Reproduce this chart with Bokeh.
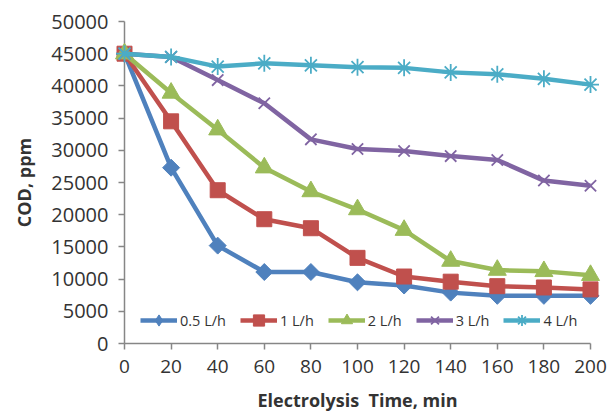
import numpy as np
from bokeh.plotting import figure
from bokeh.models import Range1d, Legend, LegendItem, SingleIntervalTicker
from bokeh.embed import file_html
from bokeh.resources import INLINE

time_min = [0, 20, 40, 60, 80, 100, 120, 140, 160, 180, 200]
cod_05 = [45000, 27300, 15200, 11100, 11100, 9500, 9000, 7900, 7400, 7400, 7400]
cod_1 = [45000, 34500, 23800, 19300, 17900, 13300, 10400, 9600, 8900, 8700, 8400]
cod_2 = [45000, 38900, 33200, 27300, 23600, 20800, 17600, 12800, 11400, 11200, 10600]
cod_3 = [45000, 44500, 40900, 37300, 31700, 30200, 29900, 29100, 28500, 25300, 24500]
cod_4 = [45000, 44500, 43000, 43500, 43200, 42900, 42800, 42100, 41800, 41100, 40200]
labels = ["0.5 L/h", "1 L/h", "2 L/h", "3 L/h", "4 L/h"]

FONT = "Open Sans"
AX = "#868686"
TXT = "#333333"

p = figure(width=608, height=414, output_backend="svg", toolbar_location=None,
           x_range=Range1d(0, 200), y_range=Range1d(0, 50000),
           min_border_left=124, min_border_right=18, min_border_top=21, min_border_bottom=69)
p.outline_line_color = None
p.grid.visible = False
p.background_fill_color = "white"
p.border_fill_color = "white"

series = [
    (cod_05, "#4F81BD", "square", 12, np.pi / 4),
    (cod_1, "#C0504D", "square", 15, 0),
    (cod_2, "#9BBB59", "triangle", 18, 0),
    (cod_3, "#8064A2", "x", 16, 0),
    (cod_4, "#4BACC6", "asterisk", 17, 0),
]

items = []
for (vals, col, mk, sz, ang), lab in zip(series, labels):
    l = p.line(time_min, vals, line_color=col, line_width=4.5, level="overlay")
    s = p.scatter(time_min, vals, marker=mk, size=sz, angle=ang, line_color=col,
                  line_width=1.8 if mk in ("x", "asterisk") else 1, fill_color=col, level="overlay")
    if ang:
        # diamond drawn underneath the rotated squares, used for the legend sample
        s = p.scatter(time_min, vals, marker="diamond", size=12, line_color=col, fill_color=col)
    items.append(LegendItem(label=lab, renderers=[l, s]))

legend = Legend(items=items, orientation="horizontal", location=(16, 9),
                glyph_width=37, glyph_height=28, label_standoff=3, spacing=14,
                padding=0, margin=0, border_line_color=None, background_fill_alpha=0,
                label_text_font=FONT, label_text_font_size="14.5px", label_text_color=TXT)
p.add_layout(legend, "center")

xa = p.xaxis[0]
xa.ticker = SingleIntervalTicker(interval=20)
xa.axis_label = "Electrolysis\u00a0 Time, min"
ya = p.yaxis[0]
ya.ticker = SingleIntervalTicker(interval=5000)
ya.axis_label = "COD, ppm"

for ax in (xa, ya):
    ax.axis_line_color = AX
    ax.axis_line_width = 1.5
    ax.major_tick_line_color = AX
    ax.major_tick_line_width = 1.5
    ax.major_tick_out = 6
    ax.major_tick_in = 0
    ax.minor_tick_line_color = None
    ax.major_label_text_font = FONT
    ax.major_label_text_color = TXT
    ax.axis_label_text_font = FONT
    ax.axis_label_text_font_size = "18px"
    ax.axis_label_text_font_style = "bold"
    ax.axis_label_text_color = TXT

xa.major_label_text_font_size = "19px"
ya.major_label_text_font_size = "20px"
xa.major_label_standoff = 10
xa.axis_label_standoff = 12
ya.major_label_standoff = 10
ya.axis_label_standoff = 12

open("out.html", "w").write(file_html(p, INLINE))
